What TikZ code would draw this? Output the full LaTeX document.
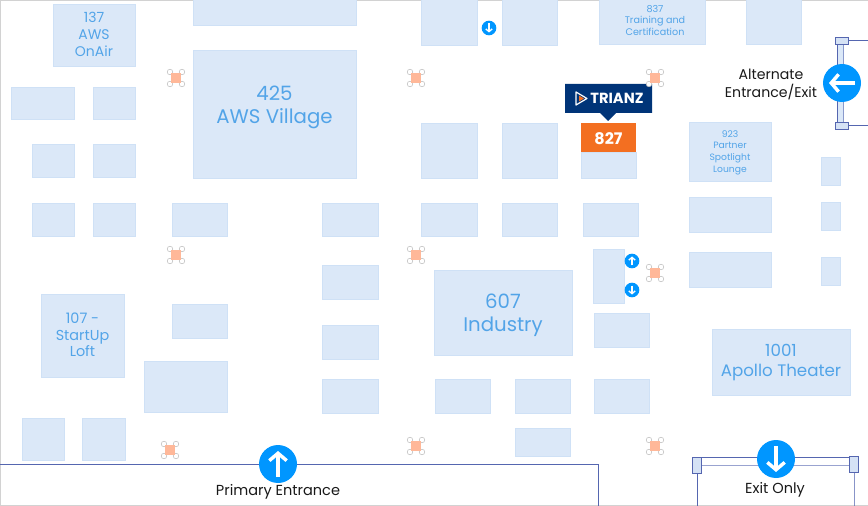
\documentclass[tikz,border=0pt]{standalone}
\usepackage{fontspec}
\setmainfont{Poppins}
\usetikzlibrary{arrows.meta,calc}
\definecolor{boothfill}{HTML}{DBE8F8}
\definecolor{boothedge}{HTML}{CFE1F6}
\definecolor{boothtext}{HTML}{52A4E8}
\definecolor{doorblue}{HTML}{5566B0}
\definecolor{doorfill}{HTML}{D5E2F5}
\definecolor{dotblue}{HTML}{0096FF}
\definecolor{flagnavy}{HTML}{003478}
\definecolor{boothorange}{HTML}{F36F21}
\definecolor{pillarfill}{HTML}{FFB899}
\tikzset{
  booth/.style={draw=boothedge,fill=boothfill,line width=0.4pt},
  boothlabel/.style 2 args={text=boothtext,align=center,inner sep=0.75pt,font=\fontsize{#1}{#2}\selectfont},
  doorlabel/.style={text=black!90,align=center,inner sep=0.75pt,font=\fontsize{10.9}{13.5}\selectfont},
  bigdot/.style={circle,fill=dotblue,minimum size=28.5pt,inner sep=0pt},
  smalldot/.style={circle,fill=dotblue,minimum size=11pt,inner sep=0pt},
  bigarrow/.style={draw=white,line width=2.8pt,-{Straight Barb[length=5.5pt,width=13pt,line width=2.6pt]}},
  smallarrow/.style={draw=white,line width=1.1pt,-{Straight Barb[length=2pt,width=4.8pt,line width=1pt]}},
  doorline/.style={draw=doorblue,line width=0.75pt},
  doorcap/.style={draw=doorblue,fill=doorfill,line width=0.75pt},
  pillar/.pic={
    \draw [gray!50,fill=white,line width=0.4pt] (-6,-6) circle (2.8) (6,-6) circle (2.8) (-6,6) circle (2.8) (6,6) circle (2.8) ;
    \fill [pillarfill] (-5.2,-5.2) rectangle (5.2,5.2) ;
  }
}
\begin{document}
\begin{tikzpicture}[x=0.75pt,y=0.75pt,yscale=-1,xscale=1]
\useasboundingbox (0,0) rectangle (868,506);
% frame
\draw [gray!35,line width=1.2pt] (0,506) -- (0,0) -- (868,0) ;
\draw [gray!35,line width=1.2pt] (0,505.5) -- (868,505.5) ;
% booths, top to bottom
\begin{scope}[shift={(0.2,0.5)}]
\draw [booth] (53,4) rectangle (135,66) ;
\draw [booth] (193,-2) rectangle (356,25) ;
\draw [booth] (193,50) rectangle (356,178) ;
\draw [booth] (421,-2) rectangle (477,45) ;
\draw [booth] (502,-2) rectangle (557,45) ;
\draw [booth] (599,-2) rectangle (705,44) ;
\draw [booth] (746,-2) rectangle (801,44) ;
\draw [booth] (11,87) rectangle (74,119) ;
\draw [booth] (93,87) rectangle (135,119) ;
\draw [booth] (32,144) rectangle (74,177) ;
\draw [booth] (93,144) rectangle (135,177) ;
\draw [booth] (32,203) rectangle (74,236) ;
\draw [booth] (93,203) rectangle (135,236) ;
\draw [booth] (172,203) rectangle (227,236) ;
\draw [booth] (322,203) rectangle (378,236) ;
\draw [booth] (421,123) rectangle (477,178) ;
\draw [booth] (502,123) rectangle (557,178) ;
\draw [booth] (581,152) rectangle (636,178) ;
\draw [booth] (421,203) rectangle (477,236) ;
\draw [booth] (502,203) rectangle (557,236) ;
\draw [booth] (583,203) rectangle (638,236) ;
\draw [booth] (689,122) rectangle (771,181) ;
\draw [booth] (689,197) rectangle (771,232) ;
\draw [booth] (689,252) rectangle (771,287) ;
\draw [booth] (821,157) rectangle (840,185) ;
\draw [booth] (821,202) rectangle (840,230) ;
\draw [booth] (821,257) rectangle (840,285) ;
\draw [booth] (322,265) rectangle (378,299) ;
\draw [booth] (593,249) rectangle (624,303) ;
\draw [booth] (434,270) rectangle (572,355) ;
\draw [booth] (594,313) rectangle (649,347) ;
\draw [booth] (322,325) rectangle (378,359) ;
\draw [booth] (172,304) rectangle (227,338) ;
\draw [booth] (41,294) rectangle (124,377) ;
\draw [booth] (144,361) rectangle (227,412) ;
\draw [booth] (322,379) rectangle (378,413) ;
\draw [booth] (435,379) rectangle (490,413) ;
\draw [booth] (515,379) rectangle (570,413) ;
\draw [booth] (594,379) rectangle (649,413) ;
\draw [booth] (712,329) rectangle (850,395) ;
\draw [booth] (22,418) rectangle (64,460) ;
\draw [booth] (82,418) rectangle (125,460) ;
\draw [booth] (515,428) rectangle (570,456) ;
\end{scope}
% booth labels
\node [boothlabel={10.5}{12.75}] (onair) at (94,34.5) {137\\AWS\\OnAir};
\node [boothlabel={14.8}{17.25}] (village) at (274.5,107) {425\\AWS Village};
\node [boothlabel={7.2}{8.6}] (training) at (655,20.5) {837\\Training and\\Certification};
\node [boothlabel={6.9}{8.7}] (lounge) at (730,152.5) {923\\Partner\\Spotlight\\Lounge};
\node [boothlabel={10.8}{12.4}] (loft) at (82.5,335) {107 -\\StartUp\\Loft};
\node [boothlabel={14.8}{17.25}] (industry) at (503,315.5) {607\\Industry};
\node [boothlabel={12.5}{15}] (theater) at (781,363) {1001\\Apollo Theater};
% highlighted booth
\fill [boothorange] (581,123) rectangle (636,152) ;
\node [text=white,inner sep=0pt,font=\fontsize{12}{14}\bfseries\selectfont] (booth827) at (608.5,138.5) {827};
\fill [flagnavy] (565,84) -- (652,84) -- (652,113) -- (616,113) -- (608,121) -- (600,113) -- (565,113) -- cycle ;
\draw [white,line width=0.9pt,line join=round] (576,92) -- (587,98.5) -- (576,105) -- cycle ;
\fill [boothorange] (579,95.5) -- (584,98.5) -- (579,101.5) -- cycle ;
\node [text=white,inner sep=0pt,font=\fontsize{11}{13}\bfseries\selectfont] (trianz) at (617,98.5) {TRIANZ};
% pillars
\pic at (176,78) {pillar};
\pic at (416,78) {pillar};
\pic at (655,78) {pillar};
\pic at (176,255) {pillar};
\pic at (416,255) {pillar};
\pic at (655,273) {pillar};
\pic at (170,450) {pillar};
\pic at (416,446) {pillar};
\pic at (655,446) {pillar};
% primary entrance
\draw [doorline] (0,464) -- (598.5,464) -- (598.5,506) ;
\node [bigdot] (primary) at (278,464) {};
\draw [bigarrow] ($(primary)+(0,13)$) -- ($(primary)+(0,-13)$) ;
\node [doorlabel] (primarytext) at (278,491.5) {Primary Entrance};
% exit only
\node [doorcap,minimum width=6.5pt,minimum height=12pt,inner sep=0pt] (exitleft) at (697,465) {};
\node [doorcap,minimum width=6.5pt,minimum height=12pt,inner sep=0pt] (exitright) at (854,464.5) {};
\draw [doorline] (exitleft.north east |- 0,457) -- (exitright.north west |- 0,457) ;
\draw [doorline,draw opacity=0.6] (exitleft.east |- 0,465) -- (exitright.west |- 0,465) ;
\draw [doorline] (exitleft.south) -- (exitleft.south |- 0,506) ;
\draw [doorline,draw opacity=0.7] (exitright.south) -- (exitright.south |- 0,506) ;
\node [bigdot] (exit) at (776,459) {};
\draw [bigarrow] ($(exit)+(0,-13)$) -- ($(exit)+(0,13)$) ;
\node [doorlabel] (exittext) at (775,489.5) {Exit Only};
% alternate entrance
\fill [boothfill] (837,44) rectangle (843.5,123) ;
\draw [doorline] (837,44) -- (837,123) ;
\draw [doorline,draw opacity=0.6] (843.5,44) -- (843.5,123) ;
\node [doorcap,minimum width=10pt,minimum height=5.5pt,inner sep=0pt] (alttop) at (842,41) {};
\node [doorcap,minimum width=10pt,minimum height=5.5pt,inner sep=0pt] (altbottom) at (842,126) {};
\draw [doorline] (alttop.east) -- (868,41) ;
\draw [doorline] (altbottom.east) -- (868,126) ;
\node [bigdot] (alternate) at (842,83) {};
\draw [bigarrow] ($(alternate)+(13,0)$) -- ($(alternate)+(-13,0)$) ;
\node [doorlabel,font=\fontsize{10.6}{13.5}\selectfont] (alttext) at (771,84.5) {Alternate\\Entrance/Exit};
% small lift arrows
\node [smalldot] (liftone) at (489,28) {};
\draw [smallarrow] ($(liftone)+(0,-4.5)$) -- ($(liftone)+(0,4.5)$) ;
\node [smalldot] (lifttwo) at (632,261) {};
\draw [smallarrow] ($(lifttwo)+(0,4.5)$) -- ($(lifttwo)+(0,-4.5)$) ;
\node [smalldot] (liftthree) at (632,290) {};
\draw [smallarrow] ($(liftthree)+(0,-4.5)$) -- ($(liftthree)+(0,4.5)$) ;
\end{tikzpicture}
\end{document}
